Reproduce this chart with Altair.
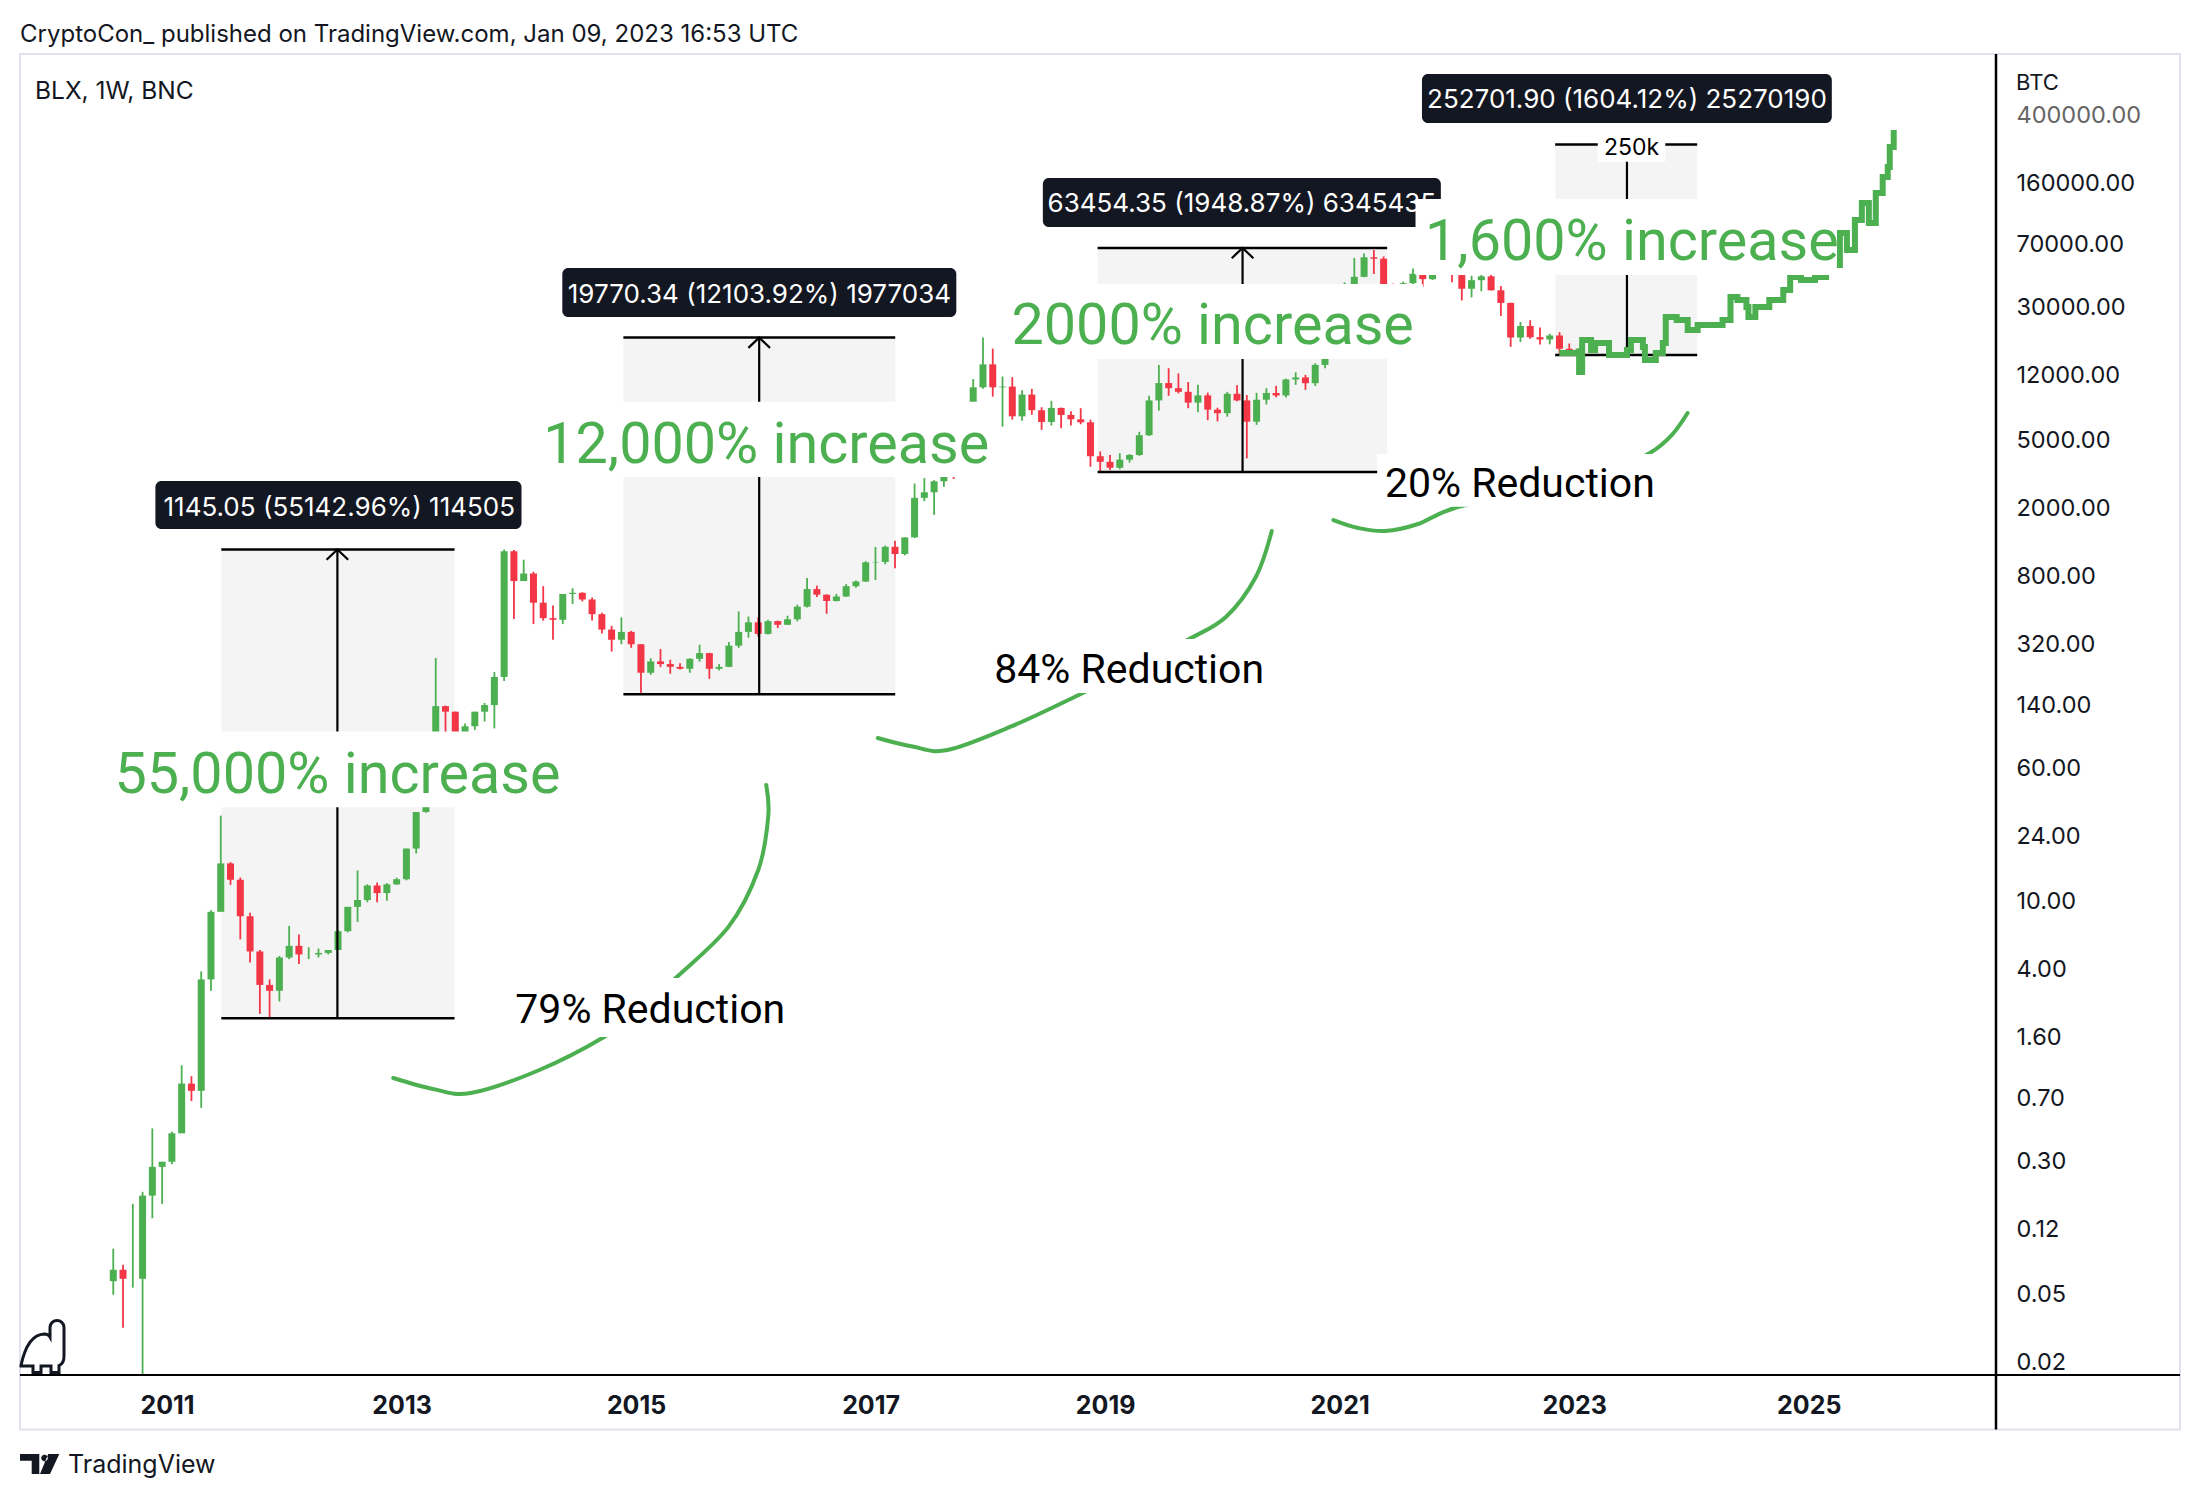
import altair as alt
import pandas as pd

GREEN = "#4caf50"
RED = "#f23645"
INK = "#131722"
BOX_FILL = "#f4f4f4"
FRAME = "#e0e3eb"

# ---------------- monthly BLX candles, Jul 2010 .. Jan 2023 ----------------
candle_open = [
    0.06, 0.07, 0.062, 0.062, 0.19, 0.28,
    0.30, 0.44, 0.86, 0.78, 3.5, 8.7, 16.7, 13.4, 8.2, 5.1, 3.25, 3.0,
    4.7, 5.5, 4.9, 4.9, 5.0, 5.2, 6.7, 9.3, 10.2, 12.4, 11.2, 12.6,
    13.5, 20.4, 33.4, 93, 139, 129, 97, 106, 129, 141, 206, 1120,
    750, 830, 560, 455, 445, 630, 640, 585, 480, 390, 340, 378,
    320, 218, 254, 245, 236, 230, 263, 284, 230, 236, 314, 378,
    430, 368, 437, 416, 448, 531, 673, 624, 573, 609, 700, 745,
    965, 970, 1190, 1080, 1350, 2300, 2480, 2875, 4700, 4340, 6450, 10200,
    13900, 10200, 10300, 6900, 9250, 7500, 6400, 7730, 7030, 6630, 6370, 4030,
    3740, 3450, 3850, 4100, 5350, 8550, 10800, 10080, 9600, 8300, 9150, 7550,
    7200, 9350, 8550, 6420, 8630, 9450, 9140, 11340, 11650, 10780, 13800, 19700,
    28950, 33100, 45200, 58800, 57700, 37300, 35000, 41500, 47100, 43800, 61300, 57000,
    46300, 38500, 43200, 45500, 37700, 31800, 19950, 23300, 20050, 19430, 20500, 17150,
    16550,
]
candle_high = [
    0.093, 0.075, 0.17, 0.20, 0.47, 0.30,
    0.45, 1.10, 0.95, 3.9, 8.9, 31.8, 17.0, 13.8, 8.6, 5.2, 3.5, 4.8,
    7.2, 6.4, 5.4, 5.3, 5.2, 6.8, 9.3, 15.2, 12.6, 12.9, 12.8, 13.8,
    20.4, 33.4, 95, 266, 140, 129, 110, 129, 145, 220, 1147, 1140,
    1000, 850, 700, 540, 630, 680, 645, 600, 490, 410, 460, 383,
    320, 265, 300, 260, 248, 265, 318, 285, 245, 330, 498, 465,
    460, 445, 440, 470, 545, 782, 705, 626, 630, 720, 755, 980,
    1186, 1210, 1290, 1350, 2790, 3000, 2920, 4770, 4980, 6470, 11400, 19934,
    17200, 11800, 11700, 9800, 9990, 7800, 8500, 7760, 7400, 7700, 6600, 4300,
    4100, 4200, 4150, 5600, 9100, 13800, 13200, 12300, 10950, 10550, 9500, 7750,
    9600, 10500, 9200, 9470, 10080, 10400, 11450, 12480, 12080, 14100, 19900, 29300,
    41950, 58350, 61800, 64850, 59500, 41300, 42400, 50500, 52900, 67000, 69000, 59100,
    47900, 45800, 48200, 47400, 39900, 31900, 24600, 25200, 22800, 20990, 21450, 18400,
    17300,
]
candle_low = [
    0.05, 0.032, 0.055, 0.01, 0.14, 0.17,
    0.29, 0.72, 0.68, 0.62, 3.0, 10.0, 12.5, 6.0, 4.4, 2.2, 2.08, 2.6,
    4.6, 4.3, 4.6, 4.7, 4.9, 5.2, 6.6, 7.6, 9.9, 9.9, 10.1, 12.5,
    13.3, 19.1, 33, 50, 90, 88, 65, 101, 113, 103, 195, 450,
    750, 420, 440, 340, 420, 550, 570, 440, 370, 290, 320, 305,
    163, 212, 235, 215, 228, 218, 253, 201, 225, 235, 305, 350,
    355, 365, 398, 415, 436, 525, 605, 483, 570, 605, 685, 740,
    760, 940, 890, 1060, 1340, 2200, 1830, 2670, 2970, 4160, 5520, 10000,
    9000, 6000, 6600, 6500, 7050, 5750, 6100, 5880, 6100, 6200, 3500, 3256,
    3350, 3380, 3700, 4050, 5300, 7450, 9100, 9400, 7700, 7300, 6550, 6450,
    6870, 8450, 3920, 6150, 8100, 8900, 8900, 10550, 9860, 10400, 13200, 17600,
    28100, 32300, 44900, 47000, 30000, 28800, 29300, 37300, 39600, 43300, 53300, 42000,
    32900, 34300, 37200, 37600, 26700, 17600, 18800, 19600, 18150, 18200, 15753, 16300,
    16500,
]
candle_close = [
    0.07, 0.062, 0.062, 0.19, 0.28, 0.30,
    0.44, 0.86, 0.78, 3.5, 8.7, 16.7, 13.4, 8.2, 5.1, 3.25, 3.0, 4.7,
    5.5, 4.9, 4.9, 5.0, 5.2, 6.7, 9.3, 10.2, 12.4, 11.2, 12.6, 13.5,
    20.4, 33.4, 93, 139, 129, 97, 106, 129, 141, 206, 1120, 750,
    830, 560, 455, 445, 630, 640, 585, 480, 390, 340, 378, 320,
    218, 254, 245, 236, 230, 263, 284, 230, 236, 314, 378, 430,
    368, 437, 416, 448, 531, 673, 624, 573, 609, 700, 745, 965,
    970, 1190, 1080, 1350, 2300, 2480, 2875, 4700, 4340, 6450, 10200, 13900,
    10200, 10300, 6900, 9250, 7500, 6400, 7730, 7030, 6630, 6370, 4030, 3740,
    3450, 3850, 4100, 5350, 8550, 10800, 10080, 9600, 8300, 9150, 7550, 7200,
    9350, 8550, 6420, 8630, 9450, 9140, 11340, 11650, 10780, 13800, 19700, 28950,
    33100, 45200, 58800, 57700, 37300, 35000, 41500, 47100, 43800, 61300, 57000, 46300,
    38500, 43200, 45500, 37700, 31800, 19950, 23300, 20050, 19430, 20500, 17150, 16550,
    17200,
]

# ---------------- projected path (thick green, 2023 .. 2025) ----------------
proj_t = [2022.873, 2023.008, 2023.042, 2023.068, 2023.144, 2023.178, 2023.297, 2023.450, 2023.484, 2023.586,
          2023.603, 2023.696, 2023.756, 2023.781, 2023.874, 2023.968, 2024.053, 2024.265, 2024.333, 2024.392,
          2024.469, 2024.486, 2024.545, 2024.664, 2024.783, 2024.842, 2024.935, 2025.054, 2025.148, 2025.266,
          2025.326, 2025.394, 2025.453, 2025.513, 2025.572, 2025.631, 2025.674, 2025.691, 2025.725]
proj_p = [16200, 16200, 12540, 19290, 16860, 18530, 15770, 16860, 19290, 17560,
          14740, 16200, 18530, 26300, 25260, 22080, 23620, 25260, 34430, 33070,
          30090, 26300, 30090, 33070, 37840, 45080, 43300, 45080, 53010, 81560,
          64860, 97180, 122240, 93330, 139800, 173500, 198500, 259900, 326800]

# ---------------- price-range boxes ----------------
box_start = [2011.463, 2014.892, 2018.936, 2022.838]
box_end = [2013.452, 2017.210, 2021.405, 2024.049]
box_mid = [2012.453, 2016.050, 2020.172, 2023.450]
box_low = [2.0765, 163.34, 3255.96, 15753.4]
box_high = [1147.13, 19933.68, 66710.3, 268455.3]

# black measurement labels
label_text = ["1145.05 (55142.96%) 114505", "19770.34 (12103.92%) 1977034",
              "63454.35 (1948.87%) 6345435", "252701.90 (1604.12%) 25270190"]
label_x0 = [2010.901, 2014.371, 2018.469, 2021.702]
label_x1 = [2014.023, 2017.731, 2021.863, 2025.197]
label_top = [2886, 50910, 171200, 694800]
label_bottom = [1512, 26300, 88440, 359200]
label_tx = [2012.469, 2016.052, 2020.166, 2023.450]
label_ty = [1811, 31980, 107810, 437700]

# green "increase" captions
inc_text = ["55,000% increase", "12,000% increase", "2000% increase", "1,600% increase"]
inc_x = [2012.453, 2016.110, 2019.917, 2023.492]
inc_y = [43.19, 3703, 18281, 56705]
inc_bg_x0 = [2010.468, 2014.150, 2018.138, 2021.647]
inc_bg_x1 = [2014.439, 2018.070, 2021.710, 2025.240]
inc_bg_top = [98.9, 8391, 41030, 128960]
inc_bg_bottom = [35.62, 3047, 14940, 46340]

# black "reduction" captions
red_text = ["79% Reduction", "84% Reduction", "20% Reduction"]
red_x = [2015.121, 2019.205, 2022.537]
red_y = [1.9376, 189.1, 2327]
red_bg_x0 = [2013.887, 2017.977, 2021.320]
red_bg_x1 = [2016.348, 2020.429, 2023.738]
red_bg_top = [3.566, 343.5, 4153]
red_bg_bottom = [1.611, 165.9, 2042]

# "250k" tag on the last box
tag_text = ["250k"]
tag_x = [2023.489]
tag_y = [233300]
tag_bg_x0 = [2023.201]
tag_bg_x1 = [2023.777]
tag_bg_top = [305500]
tag_bg_bottom = [213200]

# green arcs
arc_b_t = [2012.929, 2013.268, 2013.590, 2014.176, 2014.727, 2015.050, 2015.338, 2015.788, 2016.042, 2016.127, 2016.110]
arc_b_p = [0.927, 0.80, 0.757, 1.033, 1.61, 2.35, 3.565, 7.10, 15.28, 31.2, 48.1]
arc_c_t = [2017.061, 2017.358, 2017.655, 2018.189, 2018.809, 2019.292, 2019.717, 2020.030, 2020.285, 2020.421]
arc_c_p = [90.5, 80.6, 76.9, 105, 166, 245.5, 343.6, 462.4, 792.5, 1472]
arc_d_t = [2020.947, 2021.159, 2021.388, 2021.668, 2022.007, 2022.856, 2023.365, 2023.645, 2023.832, 2023.967]
arc_d_p = [1706, 1532, 1472, 1618, 2034, 2773, 3440, 4207, 5362, 7217]

# axes
year_ticks = [2011, 2013, 2015, 2017, 2019, 2021, 2023, 2025]
price_ticks = [0.02, 0.05, 0.12, 0.3, 0.7, 1.6, 4, 10, 24, 60, 140, 320, 800,
               2000, 5000, 12000, 30000, 70000, 160000, 400000]

header_text = "CryptoCon_ published on TradingView.com, Jan 09, 2023 16:53 UTC"
symbol_text = "BLX, 1W, BNC"
currency_text = "BTC"
footer_text = "TradingView"

# ---------------- tables ----------------
months = pd.period_range("2010-07", "2023-01", freq="M")
candles = pd.DataFrame({
    "t": months.year + (months.month - 0.5) / 12,
    "open": candle_open, "high": candle_high, "low": candle_low, "close": candle_close,
})
boxes = pd.DataFrame({"x0": box_start, "x1": box_end, "mid": box_mid, "low": box_low, "high": box_high})
box_lines = pd.DataFrame({"x0": box_start * 2, "x1": box_end * 2, "p": box_low + box_high})
labels = pd.DataFrame({"x0": label_x0, "x1": label_x1, "top": label_top, "bottom": label_bottom,
                       "tx": label_tx, "ty": label_ty, "text": label_text})
bgs = pd.DataFrame({
    "x0": inc_bg_x0 + red_bg_x0 + tag_bg_x0,
    "x1": inc_bg_x1 + red_bg_x1 + tag_bg_x1,
    "top": inc_bg_top + red_bg_top + tag_bg_top,
    "bottom": inc_bg_bottom + red_bg_bottom + tag_bg_bottom,
})
incs = pd.DataFrame({"x": inc_x, "y": inc_y, "text": inc_text})
reds = pd.DataFrame({"x": red_x, "y": red_y, "text": red_text})
tags = pd.DataFrame({"x": tag_x, "y": tag_y, "text": tag_text})
arcs = pd.concat([
    pd.DataFrame({"arc": name, "i": range(len(ts)), "t": ts, "p": ps})
    for name, ts, ps in [("b", arc_b_t, arc_b_p), ("c", arc_c_t, arc_c_p), ("d", arc_d_t, arc_d_p)]
])
proj = pd.DataFrame({"t": proj_t, "p": proj_p})
one = pd.DataFrame({"a": [0]})

# ---------------- scales & axes ----------------
W, H = 1975, 1320
xs = alt.Scale(domain=[2009.789, 2026.546], nice=False, zero=False)
ys = alt.Scale(type="log", domain=[0.016953, 897800], nice=False)

x_axis = alt.Axis(values=year_ticks, format="d", labelFont="Inter", labelFontWeight="bold",
                  labelFontSize=25, labelColor=INK, labelPadding=18, labelBaseline="top",
                  ticks=False, tickSize=0, domain=False, grid=False, title=None,
                  labelFlush=False, labelOverlap=False)
y_axis = alt.Axis(values=price_ticks, format=".2f", orient="right", labelFont="Inter",
                  labelFontSize=23.5,
                  labelColor={"condition": {"test": "datum.value >= 400000", "value": "#666666"}, "value": INK},
                  labelAlign="left", labelPadding=21, ticks=False, tickSize=0, domain=False,
                  grid=False, title=None, labelFlush=False, labelOverlap=False)


def X(f, **k):
    return alt.X(f, scale=xs, axis=x_axis, **k)


def Y(f, **k):
    return alt.Y(f, scale=ys, axis=y_axis, **k)


up_color = alt.condition("datum.close >= datum.open", alt.value(GREEN), alt.value(RED))

frame = alt.Chart(one).mark_rect(fill="white", fillOpacity=0, stroke=FRAME, strokeWidth=2).encode(
    x=alt.value(0), x2=alt.value(2160), y=alt.value(-1), y2=alt.value(1374.5))

box_fill = alt.Chart(boxes).mark_rect(color=BOX_FILL).encode(
    x=X("x0:Q"), x2="x1:Q", y=Y("high:Q"), y2="low:Q")

arc_lines = alt.Chart(arcs).mark_line(color=GREEN, strokeWidth=4, interpolate="cardinal", strokeCap="round").encode(
    x=X("t:Q"), y=Y("p:Q"), detail="arc:N", order="i:Q")

wicks = alt.Chart(candles).mark_rule(strokeWidth=1.8, clip=True).encode(
    x=X("t:Q"), y=Y("low:Q"), y2="high:Q", color=up_color)
bodies = alt.Chart(candles).mark_bar(size=7, clip=True).encode(
    x=X("t:Q"), y=Y("open:Q"), y2="close:Q", color=up_color)

hlines = alt.Chart(box_lines).mark_rule(color="black", strokeWidth=2.5).encode(
    x=X("x0:Q"), x2="x1:Q", y=Y("p:Q"))
vlines = alt.Chart(boxes).mark_rule(color="black", strokeWidth=2.2).encode(
    x=X("mid:Q"), y=Y("low:Q"), y2="high:Q")
arrows = alt.Chart(boxes).mark_point(shape="M-1,0.95L0,0L1,0.95", size=466, filled=False,
                                     stroke="black", strokeWidth=2.2, opacity=1).encode(
    x=X("mid:Q"), y=Y("high:Q"))

proj_line = alt.Chart(proj).mark_line(color=GREEN, strokeWidth=6, interpolate="step-after").encode(
    x=X("t:Q"), y=Y("p:Q"))

label_rects = alt.Chart(labels).mark_rect(color=INK, cornerRadius=6).encode(
    x=X("x0:Q"), x2="x1:Q", y=Y("top:Q"), y2="bottom:Q")
label_texts = alt.Chart(labels).mark_text(font="Inter", fontSize=26, color="white",
                                          align="center", baseline="alphabetic").encode(
    x=X("tx:Q"), y=Y("ty:Q"), text="text:N")

white_bgs = alt.Chart(bgs).mark_rect(color="white").encode(
    x=X("x0:Q"), x2="x1:Q", y=Y("top:Q"), y2="bottom:Q")

inc_texts = alt.Chart(incs).mark_text(font="Roboto", fontSize=57.5, color=GREEN,
                                      align="center", baseline="alphabetic").encode(
    x=X("x:Q"), y=Y("y:Q"), text="text:N")
red_texts = alt.Chart(reds).mark_text(font="Roboto", fontSize=41, color="black",
                                      align="center", baseline="alphabetic").encode(
    x=X("x:Q"), y=Y("y:Q"), text="text:N")
tag_texts = alt.Chart(tags).mark_text(font="Inter", fontSize=23, color="black",
                                      align="center", baseline="alphabetic").encode(
    x=X("x:Q"), y=Y("y:Q"), text="text:N")

separator = alt.Chart(one).mark_rule(color="black", strokeWidth=2.5).encode(
    x=alt.value(1976), y=alt.value(-1), y2=alt.value(1374.5))
baseline_rule = alt.Chart(one).mark_rule(color="black", strokeWidth=2).encode(
    x=alt.value(0), x2=alt.value(2160), y=alt.value(1320))

header = alt.Chart(one).mark_text(text=header_text, font="Inter", fontSize=24, color=INK,
                                  align="left", baseline="middle").encode(
    x=alt.value(0), y=alt.value(-20.3))
symbol = alt.Chart(one).mark_text(text=symbol_text, font="Inter", fontSize=24.5, color=INK,
                                  align="left", baseline="middle").encode(
    x=alt.value(15), y=alt.value(36.5))
currency = alt.Chart(one).mark_text(text=currency_text, font="Inter", fontSize=22, color=INK,
                                    align="left", baseline="middle").encode(
    x=alt.value(1996), y=alt.value(27.7))
footer = alt.Chart(one).mark_text(text=footer_text, font="Inter", fontSize=25, color=INK,
                                  align="left", baseline="middle").encode(
    x=alt.value(48), y=alt.value(1410))

TV_LOGO = ("M-1,-0.51L-0.018,-0.51L-0.018,0.51L-0.404,0.51L-0.404,-0.168L-1,-0.168Z "
           "M0.437,-0.51L1,-0.51L0.527,0.51L0.018,0.51Z "
           "M0.079,-0.305A0.168,0.168 0 1,0 0.415,-0.305A0.168,0.168 0 1,0 0.079,-0.305Z")
logo = alt.Chart(one).mark_point(shape=TV_LOGO, size=1545, filled=True, fill=INK,
                                 strokeWidth=0, opacity=1).encode(
    x=alt.value(19.65), y=alt.value(1409))

DINO = ("M-0.871,0.72Q-0.62,-0.5 0.05,-0.52Q0.2,-0.52 0.267,-0.4L0.267,-0.79"
        "A0.275,0.275 0 0,1 0.816,-0.79L0.816,0.35Q0.816,0.66 0.62,0.72L0.62,0.988L0.306,0.988"
        "L0.306,0.737L-0.086,0.737L-0.086,0.988L-0.4,0.988L-0.4,0.737L-0.871,0.737Z")
dino = alt.Chart(one).mark_point(shape=DINO, size=2601, filled=False, stroke=INK,
                                 strokeWidth=3, opacity=1).encode(
    x=alt.value(23.2), y=alt.value(1292.2))

chart = alt.layer(
    frame, box_fill, arc_lines, wicks, bodies, hlines, vlines, arrows, proj_line,
    label_rects, label_texts, white_bgs, inc_texts, red_texts, tag_texts,
    separator, baseline_rule, header, symbol, currency, footer, logo, dino,
).properties(
    width=W, height=H,
    padding={"left": 12, "top": 47, "right": 193, "bottom": 110},
    autosize=alt.AutoSizeParams(type="none"),
    background="white",
).configure_view(strokeWidth=0)

chart.save("out.html", embed_options={"renderer": "svg", "actions": False})
